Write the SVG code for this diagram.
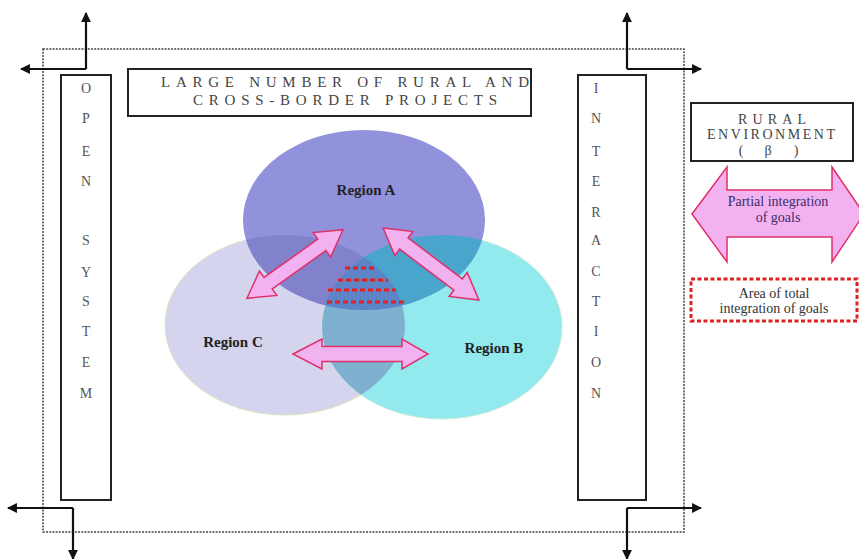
<svg xmlns="http://www.w3.org/2000/svg" width="859" height="559" viewBox="0 0 859 559">
  <style>
    .frame { fill: none; stroke: #444; stroke-width: 1.5; stroke-dasharray: 2 1.2; }
    .box { fill: #fff; stroke: #222; stroke-width: 2; }
    .flow { fill: none; stroke: #111; stroke-width: 2.2; }
    .caps { font-family: "Liberation Serif", "Times New Roman", serif; font-size: 14px; fill: #555; text-anchor: middle; }
    .title { font-family: "Liberation Serif", "Times New Roman", serif; font-size: 15px; fill: #444; text-anchor: middle; }
    .region { font-family: "Liberation Serif", "Times New Roman", serif; font-size: 15px; font-weight: bold; fill: #222; text-anchor: middle; }
    .legend { font-family: "Liberation Serif", "Times New Roman", serif; font-size: 14px; text-anchor: middle; }
    .link { fill: #f2b2f0; stroke: #e0306a; stroke-width: 1.5; stroke-linejoin: miter; }
    .core { stroke: #e02020; stroke-width: 3; stroke-dasharray: 5 3; fill: none; }
  </style>
  <defs>
    <marker id="head" viewBox="0 0 10 10" refX="9" refY="5" markerWidth="4.5" markerHeight="4.5" orient="auto" markerUnits="strokeWidth">
      <path d="M0,0 L10,5 L0,10 Z" fill="#111"/>
    </marker>
    <clipPath id="clipA"><ellipse cx="364" cy="220" rx="121" ry="90"/></clipPath>
    <clipPath id="clipB"><ellipse cx="442" cy="327" rx="120" ry="92"/></clipPath>
    <clipPath id="clipC"><ellipse cx="285" cy="325" rx="120" ry="90"/></clipPath>
  </defs>

  <rect width="859" height="559" fill="#fff"/>

  <!-- outer system boundary -->
  <rect class="frame" x="43" y="49" width="641" height="483"/>

  <!-- flows leaving the system at each corner -->
  <g id="connectors">
    <path class="flow" d="M86,69 L86,13" marker-end="url(#head)"/>
    <path class="flow" d="M86,69 L21,69" marker-end="url(#head)"/>
    <path class="flow" d="M627,69 L627,13" marker-end="url(#head)"/>
    <path class="flow" d="M627,69 L701,69" marker-end="url(#head)"/>
    <path class="flow" d="M73,508 L8,508" marker-end="url(#head)"/>
    <path class="flow" d="M73,508 L73,559" marker-end="url(#head)"/>
    <path class="flow" d="M627,508 L701,508" marker-end="url(#head)"/>
    <path class="flow" d="M627,508 L627,559" marker-end="url(#head)"/>
  </g>

  <!-- left column -->
  <g id="open-system">
    <rect class="box" x="61" y="75" width="50" height="425"/>
    <text class="caps" x="86" y="93">O</text>
    <text class="caps" x="86" y="123">P</text>
    <text class="caps" x="86" y="156">E</text>
    <text class="caps" x="86" y="186">N</text>
    <text class="caps" x="86" y="245">S</text>
    <text class="caps" x="86" y="277">Y</text>
    <text class="caps" x="86" y="306">S</text>
    <text class="caps" x="86" y="336">T</text>
    <text class="caps" x="86" y="367">E</text>
    <text class="caps" x="86" y="398">M</text>
  </g>

  <!-- right column -->
  <g id="interaction">
    <rect class="box" x="578" y="75" width="68" height="425"/>
    <text class="caps" x="596" y="93">I</text>
    <text class="caps" x="596" y="123">N</text>
    <text class="caps" x="596" y="156">T</text>
    <text class="caps" x="596" y="186">E</text>
    <text class="caps" x="596" y="217">R</text>
    <text class="caps" x="596" y="245">A</text>
    <text class="caps" x="596" y="276">C</text>
    <text class="caps" x="596" y="306">T</text>
    <text class="caps" x="596" y="336">I</text>
    <text class="caps" x="596" y="367">O</text>
    <text class="caps" x="596" y="398">N</text>
  </g>

  <!-- heading box -->
  <g id="projects">
    <rect class="box" x="128" y="69" width="403" height="47"/>
    <text class="title" x="345" y="87" textLength="368" lengthAdjust="spacing">LARGE NUMBER OF RURAL AND</text>
    <text class="title" x="345" y="105" textLength="304" lengthAdjust="spacing">CROSS-BORDER PROJECTS</text>
  </g>

  <!-- three overlapping regions -->
  <g id="regions">
    <ellipse cx="285" cy="325" rx="120" ry="90" fill="#d4d4ef" stroke="#dfe4c0" stroke-width="1"/>
    <ellipse cx="442" cy="327" rx="120" ry="92" fill="#92e9ee" stroke="#c8ecd8" stroke-width="1"/>
    <g clip-path="url(#clipC)">
      <ellipse cx="442" cy="327" rx="120" ry="92" fill="#7fb0d0"/>
    </g>
    <ellipse cx="364" cy="220" rx="121" ry="90" fill="#9292dc"/>
    <g clip-path="url(#clipC)">
      <ellipse cx="364" cy="220" rx="121" ry="90" fill="#8282cc"/>
    </g>
    <g clip-path="url(#clipB)">
      <ellipse cx="364" cy="220" rx="121" ry="90" fill="#4aa5cc"/>
      <g clip-path="url(#clipC)">
        <ellipse cx="364" cy="220" rx="121" ry="90" fill="#5c84c6"/>
      </g>
    </g>
  </g>

  <g id="region-a"><text class="region" x="366" y="195">Region A</text></g>
  <g id="region-c"><text class="region" x="233" y="347">Region C</text></g>
  <g id="region-b"><text class="region" x="494" y="353">Region B</text></g>

  <!-- partial integration links between regions -->
  <g id="links">
    <path class="link" transform="translate(295,264) rotate(-35.5)" d="M-59,0 L-33,-15 L-33,-7 L33,-7 L33,-15 L59,0 L33,15 L33,7 L-33,7 L-33,15 Z"/>
    <path class="link" transform="translate(431,264) rotate(37)" d="M-60,0 L-34,-15 L-34,-7 L34,-7 L34,-15 L60,0 L34,15 L34,7 L-34,7 L-34,15 Z"/>
    <path class="link" d="M293,354 L322,339 L322,346.5 L402,346.5 L402,339 L428,354 L402,369 L402,361.5 L322,361.5 L322,369 Z"/>
  </g>

  <!-- area of total integration -->
  <g id="core">
    <line class="core" x1="345" y1="268" x2="376" y2="268"/>
    <line class="core" x1="338" y1="280" x2="388" y2="280"/>
    <line class="core" x1="328" y1="290" x2="396" y2="290"/>
    <line class="core" x1="327" y1="302" x2="404" y2="302"/>
  </g>

  <!-- legend -->
  <g id="rural-environment">
    <rect class="box" x="691" y="103" width="162" height="58"/>
    <text class="legend" x="772" y="124" fill="#444" textLength="68" lengthAdjust="spacing">RURAL</text>
    <text class="legend" x="771" y="139" fill="#444" textLength="128" lengthAdjust="spacing">ENVIRONMENT</text>
    <text class="legend" x="741" y="155" fill="#444">(</text>
    <text class="legend" x="768" y="155" fill="#444">β</text>
    <text class="legend" x="796" y="155" fill="#444">)</text>
  </g>

  <g id="partial-integration">
    <path class="link" d="M692,214 L727,167 L727,190 L832,190 L832,167 L864,214 L832,262 L832,237 L727,237 L727,262 Z"/>
    <text class="legend" x="778" y="206" fill="#3a2c6e">Partial integration</text>
    <text class="legend" x="778" y="222" fill="#3a2c6e">of goals</text>
  </g>

  <g id="total-integration">
    <rect x="691" y="279" width="166" height="42" fill="#fff" stroke="#e02020" stroke-width="3" stroke-dasharray="4 2.5"/>
    <text class="legend" x="774" y="298" fill="#333">Area of total</text>
    <text class="legend" x="774" y="313" fill="#333">integration of goals</text>
  </g>
</svg>
